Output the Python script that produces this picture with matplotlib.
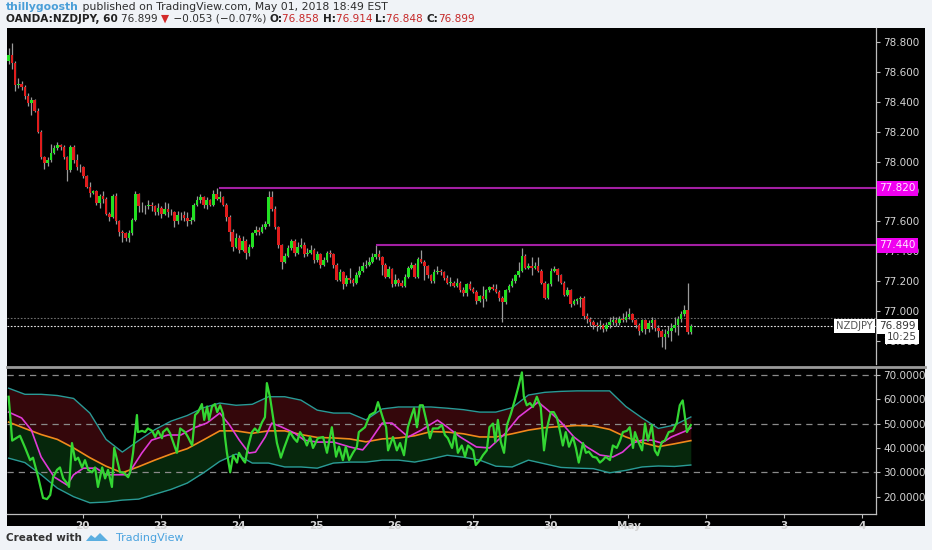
import matplotlib; matplotlib.use("Agg")
import matplotlib.pyplot as plt
import matplotlib.transforms as mtransforms
import numpy as np
from matplotlib.patches import Polygon
from matplotlib.lines import Line2D

# ---- data (hourly NZDJPY) ----
first_open = 78.67
close = [78.71, 78.66, 78.51, 78.52, 78.50, 78.44, 78.39, 78.41, 78.34, 78.20,
         78.03, 77.99, 78.01, 78.06, 78.09, 78.11, 78.10, 78.03, 77.94, 78.10,
         78.01, 77.96, 77.96, 77.90, 77.83, 77.79, 77.80, 77.72, 77.77, 77.75,
         77.65, 77.63, 77.77, 77.60, 77.53, 77.52, 77.49, 77.52, 77.61, 77.78,
         77.70, 77.70, 77.70, 77.71, 77.70, 77.66, 77.69, 77.65, 77.68, 77.66,
         77.66, 77.60, 77.64, 77.64, 77.62, 77.60, 77.61, 77.71, 77.74, 77.76,
         77.71, 77.74, 77.71, 77.78, 77.75, 77.76, 77.71, 77.63, 77.53, 77.43,
         77.49, 77.41, 77.47, 77.39, 77.43, 77.52, 77.54, 77.53, 77.56, 77.58,
         77.76, 77.68, 77.56, 77.44, 77.33, 77.37, 77.42, 77.47, 77.39, 77.43,
         77.44, 77.38, 77.39, 77.41, 77.34, 77.38, 77.31, 77.34, 77.39, 77.38,
         77.31, 77.21, 77.26, 77.18, 77.22, 77.21, 77.19, 77.24, 77.27, 77.30,
         77.31, 77.33, 77.36, 77.38, 77.36, 77.31, 77.23, 77.28, 77.18, 77.21,
         77.19, 77.17, 77.23, 77.29, 77.31, 77.23, 77.35, 77.33, 77.30, 77.24,
         77.20, 77.26, 77.27, 77.26, 77.22, 77.19, 77.19, 77.17, 77.19, 77.14,
         77.12, 77.18, 77.15, 77.13, 77.07, 77.10, 77.08, 77.14, 77.16, 77.15,
         77.13, 77.09, 77.06, 77.14, 77.17, 77.20, 77.24, 77.27, 77.37, 77.29,
         77.30, 77.29, 77.30, 77.27, 77.19, 77.09, 77.18, 77.27, 77.28, 77.24,
         77.19, 77.11, 77.14, 77.05, 77.07, 77.08, 77.09, 76.97, 76.95, 76.93,
         76.91, 76.90, 76.91, 76.88, 76.91, 76.93, 76.94, 76.92, 76.95, 76.94,
         76.96, 76.98, 76.94, 76.91, 76.87, 76.94, 76.88, 76.92, 76.94, 76.89,
         76.87, 76.83, 76.85, 76.87, 76.89, 76.91, 76.95, 76.98, 77.01, 76.858,
         76.899]
high = [78.76, 78.79, 78.67, 78.56, 78.54, 78.51, 78.46, 78.43, 78.42, 78.36,
        78.21, 78.04, 78.03, 78.12, 78.11, 78.13, 78.12, 78.11, 78.04, 78.11,
        78.11, 78.05, 77.98, 77.97, 77.91, 77.86, 77.81, 77.81, 77.78, 77.80,
        77.76, 77.66, 77.78, 77.79, 77.61, 77.54, 77.53, 77.54, 77.62, 77.80,
        77.79, 77.73, 77.71, 77.74, 77.73, 77.71, 77.72, 77.70, 77.73, 77.72,
        77.68, 77.67, 77.67, 77.66, 77.67, 77.66, 77.63, 77.72, 77.77, 77.78,
        77.77, 77.76, 77.75, 77.81, 77.82, 77.80, 77.77, 77.72, 77.64, 77.55,
        77.52, 77.51, 77.50, 77.48, 77.45, 77.53, 77.57, 77.56, 77.58, 77.60,
        77.80, 77.80, 77.70, 77.57, 77.45, 77.39, 77.44, 77.48, 77.48, 77.46,
        77.49, 77.46, 77.42, 77.44, 77.42, 77.40, 77.39, 77.36, 77.40, 77.41,
        77.39, 77.32, 77.28, 77.27, 77.24, 77.29, 77.22, 77.26, 77.30, 77.33,
        77.34, 77.36, 77.39, 77.44, 77.41, 77.37, 77.32, 77.30, 77.29, 77.25,
        77.22, 77.21, 77.25, 77.30, 77.33, 77.32, 77.36, 77.41, 77.34, 77.31,
        77.25, 77.28, 77.30, 77.28, 77.27, 77.24, 77.23, 77.20, 77.22, 77.20,
        77.16, 77.19, 77.20, 77.16, 77.14, 77.11, 77.17, 77.15, 77.17, 77.18,
        77.18, 77.14, 77.10, 77.15, 77.18, 77.22, 77.25, 77.33, 77.42, 77.38,
        77.32, 77.36, 77.33, 77.36, 77.28, 77.20, 77.19, 77.29, 77.30, 77.29,
        77.25, 77.20, 77.16, 77.15, 77.08, 77.09, 77.10, 77.10, 76.99, 76.96,
        76.94, 76.93, 76.94, 76.92, 76.93, 76.96, 76.97, 76.96, 76.97, 76.99,
        77.00, 77.02, 76.99, 76.95, 76.92, 76.95, 76.95, 76.94, 76.96, 76.95,
        76.91, 76.88, 76.88, 76.90, 76.92, 76.96, 76.97, 77.00, 77.04, 77.19,
        76.914]
low = [78.65, 78.62, 78.47, 78.49, 78.48, 78.42, 78.37, 78.31, 78.33, 78.19,
       78.02, 77.95, 77.97, 78.00, 78.05, 78.08, 78.08, 78.02, 77.87, 77.93,
       77.99, 77.94, 77.93, 77.89, 77.82, 77.76, 77.78, 77.71, 77.69, 77.72,
       77.64, 77.60, 77.62, 77.58, 77.50, 77.46, 77.47, 77.46, 77.51, 77.60,
       77.66, 77.66, 77.65, 77.68, 77.67, 77.64, 77.64, 77.62, 77.64, 77.63,
       77.64, 77.56, 77.58, 77.61, 77.60, 77.57, 77.58, 77.60, 77.70, 77.72,
       77.69, 77.68, 77.70, 77.70, 77.74, 77.73, 77.70, 77.60, 77.47, 77.40,
       77.42, 77.39, 77.40, 77.35, 77.37, 77.42, 77.51, 77.51, 77.52, 77.55,
       77.57, 77.67, 77.55, 77.42, 77.28, 77.32, 77.36, 77.41, 77.37, 77.38,
       77.42, 77.36, 77.37, 77.38, 77.32, 77.33, 77.29, 77.30, 77.33, 77.36,
       77.29, 77.20, 77.20, 77.15, 77.17, 77.19, 77.17, 77.18, 77.23, 77.26,
       77.29, 77.30, 77.32, 77.35, 77.34, 77.24, 77.22, 77.22, 77.16, 77.17,
       77.17, 77.16, 77.16, 77.22, 77.28, 77.22, 77.22, 77.32, 77.21, 77.22,
       77.19, 77.19, 77.25, 77.24, 77.21, 77.18, 77.17, 77.16, 77.16, 77.13,
       77.10, 77.10, 77.14, 77.12, 77.05, 77.06, 77.03, 77.07, 77.13, 77.14,
       77.12, 77.07, 76.93, 77.05, 77.13, 77.16, 77.19, 77.23, 77.26, 77.28,
       77.28, 77.24, 77.28, 77.26, 77.18, 77.08, 77.08, 77.17, 77.26, 77.20,
       77.18, 77.10, 77.10, 77.03, 77.04, 77.05, 77.03, 76.95, 76.92, 76.90,
       76.88, 76.87, 76.88, 76.86, 76.87, 76.89, 76.91, 76.90, 76.91, 76.93,
       76.93, 76.95, 76.93, 76.89, 76.84, 76.86, 76.85, 76.86, 76.88, 76.87,
       76.83, 76.76, 76.75, 76.83, 76.80, 76.86, 76.84, 76.93, 76.97, 76.85,
       76.848]

res_levels = [77.82, 77.44]          # drawn resistance lines
res_start = [64.8, 113.0]            # bar where each line starts
last_price = 76.899
prev_close = 76.956

day_pos = [22.8, 46.8, 70.8, 94.8, 118.8, 142.8, 166.8, 190.8, 214.8, 238.8, 262.8]
day_lbl = ["20", "23", "24", "25", "26", "27", "30", "May", "2", "3", "4"]

# RSI with bollinger bands on it
rsi_t = [0, 1.1, 3.5, 5.1, 6.6, 7.5, 9.1, 10.6, 11.8, 12.8, 13.7, 14.9, 15.8, 16.8, 18, 18.6,
         19.5, 20.5, 21.4, 22.6, 23.5, 24.5, 25.7, 26.6, 27.5, 28.8, 29.7, 30.6, 31.8, 32.5,
         33.4, 34.3, 35.2, 36.8, 37.4, 38.3, 39.5, 39.8, 41.1, 42, 42.9, 44.2, 45.1, 46, 47.2,
         47.5, 48.8, 49.7, 51.8, 52.8, 54.3, 55.2, 56.5, 57.4, 58.3, 59.5, 60.2, 61.1, 61.7,
         62.6, 63.5, 64.2, 65.1, 66, 66.6, 67.2, 68.2, 69.1, 70.3, 70.9, 72.2, 72.8, 73.7,
         74.9, 75.8, 76.8, 78, 78.9, 79.5, 80.5, 81.7, 82.6, 83.8, 84.8, 86.6, 87.8, 88.8,
         89.7, 90.9, 91.8, 92.8, 93.7, 95.2, 96.8, 98, 99.5, 100.8, 101.7, 102.9, 103.8,
         104.8, 106, 107.2, 107.8, 109.7, 111.2, 112.8, 113.7, 115.2, 116.2, 116.8, 118.3,
         119.5, 120.5, 121.7, 122.9, 124.2, 124.8, 125.7, 126.6, 127.5, 128.8, 129.7, 130.6,
         132.2, 133.4, 134.3, 135.2, 136.5, 137.4, 138.3, 139.5, 140.5, 141.4, 143, 143.8,
         145.1, 146, 147.2, 148, 149.1, 149.8, 150.6, 151.5, 152.5, 153.4, 154.6, 155.8,
         156.8, 158, 158.6, 159.5, 160.5, 161.4, 162.6, 163.8, 164.8, 165.7, 166.9, 167.8,
         168.8, 169.7, 170.6, 171.5, 172.5, 173.7, 174.6, 175.5, 176.8, 177.7, 178.6, 179.8,
         181, 182, 182.9, 183.8, 185.1, 186, 187.2, 188.2, 189.1, 190.3, 191.2, 192.2, 192.8,
         193.7, 195, 195.9, 196.8, 198, 198.9, 199.8, 201.1, 202, 203.2, 204.5, 205.7, 206.6,
         207.5, 208.8, 210]
rsi_v = [61, 43, 45, 40, 35, 36, 28, 19.5, 19, 20.7, 28, 31, 32, 27.5, 25.5, 24,
         42, 35, 36, 32, 35, 31, 30, 32, 24, 32, 27.5, 31, 24, 40,
         35, 30, 30, 28, 30, 38, 53.5, 46.5, 47, 46.5, 48, 47, 44.5, 47, 44,
         46.5, 48, 46, 38, 48, 46.5, 44.5, 41, 53.5, 54.7, 58, 51.5, 57, 51.5,
         57, 58, 54.7, 57.5, 54, 44.5, 38, 30, 37, 34, 38, 35, 34, 40.5,
         46.5, 48, 46.5, 50.5, 52.6, 66.6, 60.5, 50, 42, 36, 40, 46.5, 44, 42.5,
         46.5, 44, 41, 44.5, 40, 44, 44.5, 38, 48.5, 36.4, 40.5, 35, 40.5,
         35, 38, 40.5, 46.5, 48.5, 53.5, 54.7, 58.8, 52.3, 48.5, 39, 44.5,
         39, 42, 37, 48.5, 54, 56.3, 48.5, 57.5, 57.5, 50, 44, 48,
         48, 49.4, 45.3, 44, 40, 46.5, 38, 41, 36.4, 41, 39, 33,
         35, 37, 39, 48.5, 50, 42.5, 51.5, 42.5, 38, 49.4, 54, 59.5,
         64.5, 71, 61, 57.5, 58.4, 56.8, 61, 56.8, 39, 48, 54.7, 54.7,
         52.3, 47, 41, 46.5, 40.5, 44.5, 40, 34, 42, 38, 38.5, 36.4,
         36, 34, 35, 36.4, 35, 41, 40, 43, 46.5, 47, 48.5, 40, 46.5,
         43, 39, 50, 43, 49.4, 39, 37, 42.5, 43, 46.5, 47, 50.5, 57.5,
         59.5, 46.5, 49.4]

band_t = list(range(0, 211, 5))
bb_upper = [64.5, 62, 62, 61.5, 60.3, 54.3, 43.5, 38.3, 43, 47.5, 51, 53.3, 56.5, 58.4, 57.5,
            57.9, 61, 61, 59.6, 55.5, 54.3, 54.3, 51.5, 56, 56.8, 56.8, 56.8, 56.3, 55.7, 54.7,
            54.7, 56.5, 61.7, 62.8, 63.2, 63.4, 63.4, 63.4, 57, 52.3, 48, 49.4, 52.7]
bb_basis = [50.6, 48, 45.5, 43.5, 40, 36, 32.5, 29.8, 32.3, 35, 37.5, 39.7, 43.3, 47, 47,
            46, 47, 47, 45.5, 44.3, 44.1, 43.7, 42.5, 43.7, 44.1, 45, 46.7, 46.5, 45.8, 44.5,
            44.5, 45.8, 47.3, 48.3, 48.8, 49.2, 49, 47.6, 44.5, 42.2, 40.5, 41.7, 43]
bb_lower = [35.8, 34, 29, 23.5, 20, 17.5, 17.8, 18.6, 19, 21, 23, 25.6, 29.8, 34.5, 37.5,
            33.8, 33.8, 32.2, 32.2, 31.7, 33.8, 34.2, 34.2, 35, 35, 34.2, 35.5, 37, 36.2, 35,
            32.5, 32.2, 35, 33.5, 32, 31.7, 31.5, 29.8, 30.8, 32.2, 32.6, 32.4, 33]

rsi_ma_t = [0, 4, 7, 10, 14, 18, 20, 23, 27, 30, 33, 37, 38, 41, 44, 49, 53, 57, 61, 65, 68,
            71, 74, 76, 79, 81, 84, 88, 91, 95, 100, 105, 109, 111, 115, 118, 123, 127, 132,
            135, 139, 144, 148, 153, 157, 163, 166, 170, 174, 178, 182, 186, 189, 192, 195,
            198, 201, 204, 209, 210]
rsi_ma_v = [54.7, 52.3, 47.3, 36.3, 28.1, 24.8, 29, 31.7, 31.7, 29, 29, 29, 31.7, 37.9, 43.2,
            45.3, 45.3, 48.2, 50.2, 54.3, 49.4, 43.2, 37.9, 38.3, 44.5, 50.2, 48.6, 46.1, 43.2,
            42.4, 42.4, 40.4, 39.2, 42.4, 50.2, 50.2, 44.5, 47.3, 51.4, 48.6, 44.5, 40.4, 40,
            46.1, 52.7, 58.8, 55.5, 50.6, 44.5, 40.4, 37.1, 36.3, 38.3, 42, 43.2, 43.2, 42,
            44.5, 47.3, 48.2]

# ---- layout (pixel helpers) ----
W, H = 932, 550
def fx(px): return px / W
def fy(py): return 1 - py / H

GREEN, RED, WICK = "#22e022", "#e01c1c", "#9a9a9a"
AXCOL, TXT = "#bdbdbd", "#d4d4d4"
XMAX = 267.0

fig = plt.figure(figsize=(W / 100, H / 100), dpi=100, facecolor="#f0f3f7")

bg = fig.add_axes([fx(7), fy(526), fx(925) - fx(7), fy(28) - fy(526)])
bg.set_facecolor("black"); bg.set_xticks([]); bg.set_yticks([])
for s in bg.spines.values(): s.set_visible(False)

ax = fig.add_axes([fx(7), fy(364), fx(876) - fx(7), fy(28) - fy(364)], facecolor="black")
ax2 = fig.add_axes([fx(7), fy(514), fx(876) - fx(7), fy(367) - fy(514)], facecolor="black")

# --- candles ---
close = np.array(close); high = np.array(high); low = np.array(low)
opens = np.r_[first_open, close[:-1]]
idx = np.arange(len(close))
up = close >= opens
ax.vlines(idx, low, high, color=WICK, lw=0.9, zorder=2)
ax.bar(idx, np.maximum(np.abs(close - opens), 0.004), bottom=np.minimum(opens, close),
       width=0.8, color=np.where(up, GREEN, RED), linewidth=0, zorder=3)

for lvl, st in zip(res_levels, res_start):
    ax.hlines(lvl, st, XMAX, color="#a31fa3", lw=1.5, zorder=4)
ax.axhline(prev_close, color="#6e6e6e", lw=0.8, ls=(0, (1.5, 1.5)), zorder=1)
ax.axhline(last_price, color="#e8e8e8", lw=0.8, ls=(0, (1.5, 1.5)), zorder=1)

ax.set_xlim(-0.5, XMAX); ax.set_ylim(76.647, 78.892)
ax.set_xticks([])
ax.yaxis.tick_right()
ax.set_yticks(np.arange(76.8, 78.81, 0.2))
ax.yaxis.set_major_formatter(plt.FormatStrFormatter("%.3f"))
ax.tick_params(axis="y", colors=AXCOL, labelcolor=TXT, labelsize=7.5, length=3, width=0.8, pad=2)
for k, s in ax.spines.items():
    s.set_visible(k == "right"); s.set_color(AXCOL); s.set_linewidth(0.9)

tr = mtransforms.blended_transform_factory(ax.transAxes, ax.transData)
for lvl in res_levels:
    ax.text(1.004, lvl, f"{lvl:.3f}", transform=tr, ha="left", va="center", fontsize=7.5,
            color="#ffe6ff", clip_on=False, zorder=10,
            bbox=dict(boxstyle="square,pad=0.22", fc="#f000f0", ec="none"))
ax.text(1.004, last_price, f"{last_price:.3f}", transform=tr, ha="left", va="center", fontsize=7.5,
        color="#333333", clip_on=False, zorder=10,
        bbox=dict(boxstyle="square,pad=0.22", fc="white", ec="none"))
ax.text(0.996, last_price, "NZDJPY", transform=tr, ha="right", va="center", fontsize=7.2,
        color="#555555", clip_on=False, zorder=10,
        bbox=dict(boxstyle="square,pad=0.22", fc="white", ec="none"))
ax.text(1.047, 76.827, "10:25", transform=tr, ha="right", va="center", fontsize=7.5,
        color="#444444", clip_on=False, zorder=11,
        bbox=dict(boxstyle="square,pad=0.2", fc="white", ec="none"))

# --- RSI pane ---
ax2.fill_between(band_t, bb_basis, bb_upper, color="#34070b", lw=0, zorder=1)
ax2.fill_between(band_t, bb_lower, bb_basis, color="#06270c", lw=0, zorder=1)
for lvl in (70, 50, 30):
    ax2.axhline(lvl, color="#8a8a8a", lw=0.9, ls=(0, (5, 4)), zorder=1.5)
ax2.plot(band_t, bb_upper, color="#2a9a96", lw=1, zorder=2)
ax2.plot(band_t, bb_lower, color="#2a9a96", lw=1, zorder=2)
ax2.plot(band_t, bb_basis, color="#f08a1c", lw=1.2, zorder=3)
ax2.plot(rsi_ma_t, rsi_ma_v, color="#e03ad8", lw=1.2, zorder=3)
ax2.plot(rsi_t, rsi_v, color="#33d633", lw=1.6, zorder=4)

ax2.set_xlim(-0.5, XMAX); ax2.set_ylim(12.9, 73.2)
ax2.yaxis.tick_right()
ax2.set_yticks(range(20, 71, 10))
ax2.yaxis.set_major_formatter(plt.FormatStrFormatter("%.4f"))
ax2.set_xticks(day_pos)
ax2.set_xticklabels(day_lbl, fontweight="bold")
ax2.tick_params(axis="both", colors=AXCOL, labelcolor=TXT, labelsize=7.5, length=3, width=0.8, pad=2)
for k, s in ax2.spines.items():
    s.set_visible(k in ("right", "bottom")); s.set_color(AXCOL); s.set_linewidth(0.9)

fig.add_artist(Line2D([fx(7), fx(925)], [fy(366.5), fy(366.5)], color="#9a9a9a", lw=2))

# --- header ---
r = fig.canvas.get_renderer()
def parts(x_px, y_px, segs, size):
    x = x_px
    for s, col, w in segs:
        t = fig.text(fx(x), fy(y_px), s, color=col, fontsize=size, fontweight=w, va="center", ha="left")
        x += t.get_window_extent(renderer=r).width

parts(6, 7.5, [("thillygoosth", "#4a9fd8", "bold"),
               (" published on TradingView.com, May 01, 2018 18:49 EST", "#2e2e2e", "normal")], 7.8)
parts(6, 18.5, [("OANDA:NZDJPY, 60 ", "#222222", "bold"),
                ("76.899 ", "#2e2e2e", "normal"), ("▼", "#d32a2a", "normal"),
                (" −0.053 (−0.07%) ", "#2e2e2e", "normal"), ("O:", "#222222", "bold"),
                ("76.858 ", "#c62828", "normal"), ("H:", "#222222", "bold"),
                ("76.914 ", "#c62828", "normal"), ("L:", "#222222", "bold"),
                ("76.848 ", "#c62828", "normal"), ("C:", "#222222", "bold"),
                ("76.899", "#c62828", "normal")], 7.6)

# --- footer ---
fig.text(fx(6), fy(538), "Created with", color="#333333", fontsize=7.5, fontweight="bold", va="center")
logo = [(86, 541), (91, 535), (95, 538), (100, 533), (108, 541)]
fig.add_artist(Polygon([(fx(a), fy(b)) for a, b in logo], closed=True, fc="#5aaee0", ec="none"))
fig.text(fx(116), fy(538), "TradingView", color="#4aa3df", fontsize=8, va="center")

fig.savefig("out.png", dpi=100, facecolor=fig.get_facecolor())
